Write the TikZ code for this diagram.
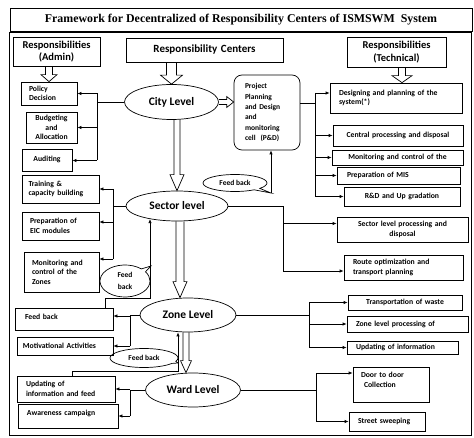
\documentclass[tikz,border=0pt]{standalone}
\usepackage{fontspec}
\setmainfont{Carlito}
\newfontfamily\titlefont{Liberation Serif}
\usetikzlibrary{arrows.meta,calc,shapes.geometric,shapes.callouts}

\tikzset{
  base/.style={draw, inner sep=0pt, font=\bfseries\fontsize{7.7}{9.6}\selectfont},
  % left-aligned box: width, height, text width
  lbox/.style n args={3}{base, minimum width=#1, minimum height=#2, text width=#3, align=left},
  % centred box: width, height, text width
  cbox/.style n args={3}{base, minimum width=#1, minimum height=#2, text width=#3, align=center},
  head/.style={font=\bfseries\fontsize{10.5}{12.5}\selectfont},
  level/.style={draw, ellipse, inner sep=0pt, font=\bfseries\fontsize{11.5}{13}\selectfont},
  fbk/.style={draw, ellipse callout, inner sep=0pt, callout pointer arc=14,
    font=\bfseries\fontsize{7.5}{11}\selectfont, align=center},
  arr/.style={-{Latex[length=4pt,width=3.5pt]}},
  % hollow block arrows: shaft half width / head half width / head length
  fatdown/.style args={#1/#2/#3}{to path={let \p1=(\tikztostart), \p2=(\tikztotarget) in
    (\x1-#1,\y1) -- (\x1-#1,\y2+#3) -- (\x1-#2,\y2+#3) -- (\x1,\y2)
    -- (\x1+#2,\y2+#3) -- (\x1+#1,\y2+#3) -- (\x1+#1,\y1)}},
  fatright/.style args={#1/#2/#3}{to path={let \p1=(\tikztostart), \p2=(\tikztotarget) in
    (\x1,\y1+#1) -- (\x2-#3,\y1+#1) -- (\x2-#3,\y1+#2) -- (\x2,\y1)
    -- (\x2-#3,\y1-#2) -- (\x2-#3,\y1-#1) -- (\x1,\y1-#1)}},
}

\begin{document}
\begin{tikzpicture}[x=1pt,y=-1pt,line width=0.7pt]
\useasboundingbox (0,0) rectangle (474,438);

% title and outer frame
\node[draw, minimum width=462pt, minimum height=23pt, inner sep=0pt,
  font=\titlefont\bfseries\fontsize{11.9}{13}\selectfont] (title) at (241,19.5)
  {Framework for Decentralized of Responsibility Centers of ISMSWM\ \ System};
\node[draw, line width=1pt, minimum width=462pt, minimum height=402pt] (frame) at (240,234) {};

% column headings
\node[cbox={87pt}{29pt}{84pt}, head] (hAdmin) at (56.5,51.5) {Responsibilities\\(Admin)};
\node[cbox={157pt}{24pt}{150pt}, font=\bfseries\fontsize{11}{13}\selectfont] (hCenters) at (204.5,50) {Responsibility Centers};
\node[cbox={99pt}{30pt}{96pt}, head] (hTech) at (396.5,52) {Responsibilities\\(Technical)};

% responsibility levels
\node[level, minimum width=94pt, minimum height=35pt] (city) at (171.5,102) {City Level};
\node[level, minimum width=102pt, minimum height=30pt] (sector) at (177,206) {Sector level};
\node[level, minimum width=96pt, minimum height=34pt] (zone) at (188,315) {Zone Level};
\node[level, minimum width=95pt, minimum height=34pt] (ward) at (193,390) {Ward Level};

% administrative tasks
\node[lbox={56pt}{23pt}{40pt}] (policy) at (49,93.5) {Policy\\Decision};
\node[cbox={51pt}{31pt}{48pt}] (budget) at (51.5,127.5) {Budgeting\\and\\Allocation};
\node[cbox={50pt}{22pt}{46pt}] (audit) at (47,160.5) {Auditing\rule[-3pt]{0pt}{1pt}};
\node[lbox={77pt}{28pt}{64pt}] (training) at (60.5,189) {Training \&\\capacity building};
\node[lbox={77pt}{28pt}{61pt}] (eic) at (60.5,226) {Preparation of\\EIC modules};
\node[lbox={75pt}{40pt}{59pt}] (monZones) at (61.5,272) {Monitoring and\\control of the\\Zones};
\node[lbox={98pt}{22pt}{78pt}] (fbBox) at (64,319) {Feed back\rule[-4pt]{0pt}{1pt}};
\node[lbox={96pt}{18pt}{84pt}] (motiv) at (65,346) {Motivational Activities};
\node[lbox={98pt}{26pt}{80pt}] (updInfo) at (66,389) {Updating of\\information and feed};
\node[lbox={100pt}{24pt}{82pt}] (aware) at (68,416) {Awareness campaign\rule[-6pt]{0pt}{1pt}};

% project cell
\node[lbox={66pt}{75pt}{44pt}, rounded corners=8pt, font=\bfseries\fontsize{7.5}{10.3}\selectfont] (pd) at (267,112.5)
  {Project\\Planning\\and Design\\and\\monitoring\\cell\ \ (P\&D)};

% technical tasks
\node[lbox={132pt}{30pt}{114pt}] (design) at (396,98) {Designing and planning of the\\system(*)};
\node[cbox={130pt}{21pt}{126pt}] (central) at (398,135.5) {Central processing and disposal};
\node[cbox={131pt}{15pt}{127pt}] (monitor) at (397.5,157.5) {Monitoring and control of the};
\node[lbox={123pt}{17pt}{103pt}] (mis) at (398.5,175.5) {Preparation of MIS};
\node[cbox={116pt}{19pt}{112pt}] (rnd) at (402,196.5) {R\&D and Up gradation};
\node[cbox={131pt}{25pt}{127pt}] (secProc) at (402.5,229.5) {Sector level processing and\\disposal};
\node[lbox={119pt}{25pt}{101pt}] (route) at (403.5,267.5) {Route optimization and\\transport planning};
\node[cbox={114pt}{15pt}{110pt}] (transp) at (405,302.5) {Transportation of waste};
\node[lbox={121pt}{16pt}{103pt}] (zoneProc) at (407.5,324) {Zone level processing of};
\node[lbox={111pt}{13pt}{93pt}] (updTech) at (402.5,347.5) {Updating of information};
\node[lbox={76pt}{35pt}{60pt}] (door) at (391,384.5) {Door to door\\\hspace*{3pt}Collection\rule[-10pt]{0pt}{1pt}};
\node[lbox={76pt}{19pt}{58pt}] (street) at (387,421.5) {Street sweeping};

% feedback callouts
\node[fbk, minimum width=64pt, minimum height=17pt, callout absolute pointer={(271,193)}] (fb1) at (235,183) {Feed back};
\node[fbk, minimum width=50pt, minimum height=32pt, callout absolute pointer={(151,266)},
  font=\bfseries\fontsize{7.5}{12}\selectfont] (fb2) at (125,281) {Feed\\back};
\node[fbk, minimum width=68pt, minimum height=19pt, callout absolute pointer={(178,363)}] (fb3) at (144,358) {Feed back};

% hollow block arrows
\draw[fatdown=3.5pt/8pt/7pt] (hAdmin.south -| policy.north) to (policy.north);
\draw[fatdown=5pt/11pt/9pt] (hCenters.south -| city.north) to (city.north);
\draw[fatdown=3.5pt/10pt/7pt] ([xshift=5.5pt]hTech.south) to ([xshift=5.5pt]hTech.south |- design.north);
\draw[fatright=2.5pt/5.5pt/7pt] (city.east) to (city.east -| pd.west);
\draw[fatdown=3pt/7pt/16pt] (city.south -| sector.north) to (sector.north);
\draw[fatdown=4pt/7pt/16pt] ([xshift=3pt]sector.south) to ([xshift=3pt]sector.south |- zone.north);
\draw[fatdown=3pt/5.5pt/12pt] ([xshift=-2pt]zone.south) to ([xshift=-2pt]zone.south |- ward.north);

% trunk positions of the branching connectors
\coordinate (tCL) at (97,0);
\coordinate (tPD) at (315,0);
\coordinate (tSL) at (113,0);
\coordinate (tSR) at (283,0);
\coordinate (tZL) at (130,0);
\coordinate (tZR) at (309,0);
\coordinate (tWL) at (130,0);
\coordinate (tWR) at (316,0);

% city level -> admin tasks
\draw (city.west) -- (city.west -| tCL);
\draw (tCL |- policy.east) -- (tCL |- audit.east);
\foreach \b in {policy,budget,audit} \draw[arr] (tCL |- \b.east) -- (\b.east);

% project cell -> technical tasks
\coordinate (pdOut) at ([yshift=9.5pt]pd.east);
\coordinate (dIn) at ([yshift=5pt]design.west);
\draw (pdOut) -- (pdOut -| tPD);
\draw (tPD |- dIn) -- (tPD |- rnd.west);
\draw[arr] (tPD |- dIn) -- (dIn);
\foreach \b in {central,monitor,mis,rnd} \draw[arr] (tPD |- \b.west) -- (\b.west);

% sector level -> admin tasks
\coordinate (eicIn) at ([yshift=4pt]eic.east);
\coordinate (mzIn) at ([yshift=13pt]monZones.east);
\draw (sector.west) -- (sector.west -| tSL);
\draw (tSL |- training.east) -- (tSL |- mzIn);
\draw[arr] (tSL |- training.east) -- (training.east);
\draw[arr] (tSL |- eicIn) -- (eicIn);
\draw[arr] (tSL |- mzIn) -- (mzIn);

% sector level -> technical tasks
\coordinate (spIn) at ([yshift=6pt]secProc.west);
\coordinate (rtIn) at ([yshift=-3.5pt]route.west);
\draw (sector.east) -- (sector.east -| tSR) -- (tSR |- rtIn);
\draw[arr] (tSR |- spIn) -- (spIn);
\draw[arr] (tSR |- rtIn) -- (rtIn);

% zone level -> admin tasks
\coordinate (fbIn) at ([yshift=3pt]fbBox.east);
\draw (zone.west) -- (zone.west -| tZL) -- (tZL |- motiv.east);
\draw[arr] (tZL |- fbIn) -- (fbIn);
\draw[arr] (tZL |- motiv.east) -- (motiv.east);

% zone level -> technical tasks
\draw (zone.east) -- (zone.east -| tZR);
\draw (tZR |- transp.west) -- (tZR |- updTech.west);
\foreach \b in {transp,zoneProc,updTech} \draw[arr] (tZR |- \b.west) -- (\b.west);

% ward level -> admin tasks
\draw (ward.west) -- (ward.west -| tWL) -- (tWL |- aware.east);
\draw[arr] (tWL |- updInfo.east) -- (updInfo.east);
\draw[arr] (tWL |- aware.east) -- (aware.east);

% ward level -> technical tasks
\coordinate (doorIn) at ([yshift=11.5pt]door.west);
\draw (ward.east) -- (ward.east -| tWR);
\draw (tWR |- doorIn) -- (tWR |- street.west);
\draw[arr] (tWR |- doorIn) -- (doorIn);
\draw[arr] (tWR |- street.west) -- (street.west);

% feedback paths
\coordinate (fb1a) at (271,193);
\draw[arr] (fb1a) -- (fb1a |- pd.south);
\coordinate (fb2a) at (105,298);
\coordinate (fb2b) at (150,298);
\draw[arr] (fb2a |- fbBox.north) -- (fb2a) -- (fb2b) -- (fb2b |- sector.206);
\coordinate (fb3a) at (72,371);
\coordinate (fb3b) at (178,371);
\draw[arr] (fb3a |- updInfo.north) -- (fb3a) -- (fb3b) -- (fb3b |- zone.south);
\end{tikzpicture}
\end{document}
